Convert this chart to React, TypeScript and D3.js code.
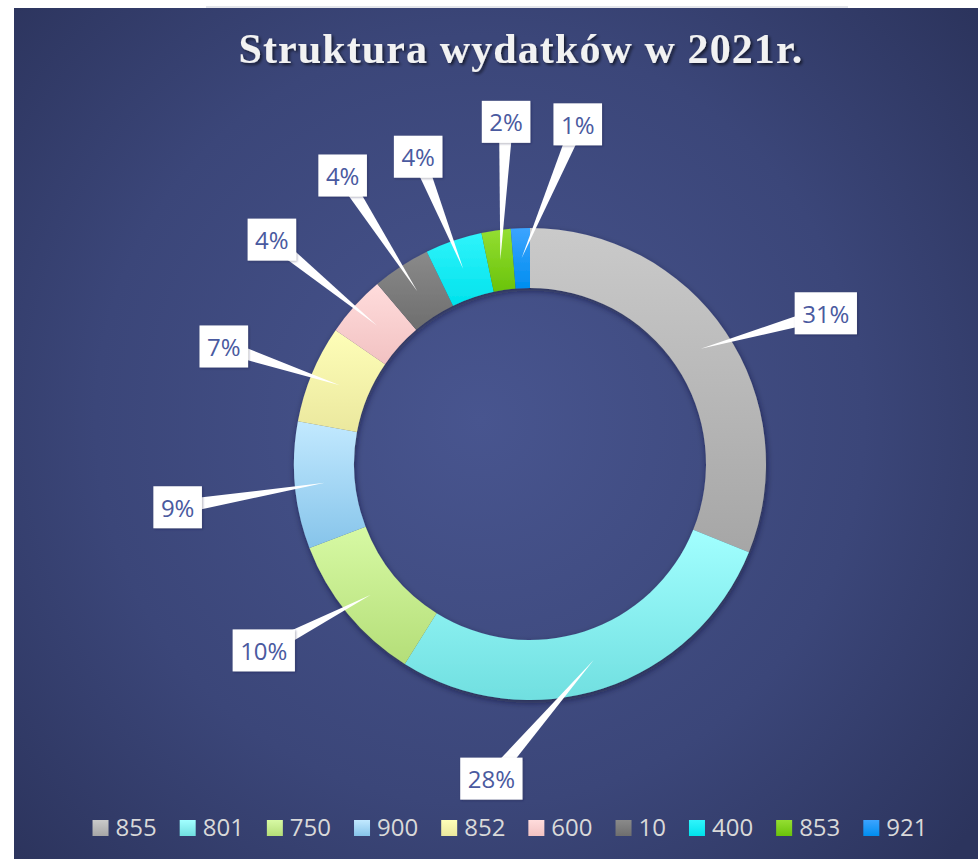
import React from "react";
import * as d3 from "d3";

const categories = ["855", "801", "750", "900", "852", "600", "10", "400", "853", "921"];
const shares = [31.1, 27.8, 10.3, 8.7, 6.7, 4.2, 4.0, 3.9, 2.0, 1.3];
const percentLabels = ["31%", "28%", "10%", "9%", "7%", "4%", "4%", "4%", "2%", "1%"];
const colorTop = ["#cacaca", "#a2ffff", "#d7f9a4", "#c2e9ff", "#fefeb8", "#ffdcdc", "#8a8a8a", "#30f4fb", "#94de32", "#3ca4ff"];
const colorBottom = ["#a6a6a6", "#70dfe0", "#b4de78", "#86c4ea", "#ebe89e", "#f2c2c2", "#6e6e6e", "#00e2ec", "#6ac30a", "#008ef0"];

// callout placement: degrees clockwise from 12 o'clock, distance from ring centre
const calloutAngle = [63, 187, 235, 263, 291, 311, 327, 340, 356, 8];
const calloutDist = [332, 317, 325, 355, 328, 342, 344, 327, 343, 343];

const W = 978, H = 859;
const CX = 530, CY = 464, R_OUT = 236, R_IN = 176;
const LABEL_FONT = "'Open Sans', sans-serif";

let ctx: CanvasRenderingContext2D | null = null;
function textWidth(s: string, font: string) {
  if (!ctx) ctx = document.createElement("canvas").getContext("2d");
  if (!ctx) return s.length * 13.7;
  ctx.font = font;
  return ctx.measureText(s).width;
}

export default function App() {
  const pie = d3.pie<number>().sort(null).value(d => d);
  const arcs = pie(shares);
  const arc = d3.arc<d3.PieArcDatum<number>>().innerRadius(R_IN).outerRadius(R_OUT);

  // legend layout
  const legFont = `24px ${LABEL_FONT}`;
  const key = 16, keyGap = 7, itemGap = 23;
  const widths = categories.map(c => key + keyGap + textWidth(c, legFont));
  const total = d3.sum(widths) + itemGap * (categories.length - 1);
  let lx = 510 - total / 2;
  const legendX = widths.map(w => { const x = lx; lx += w + itemGap; return x; });

  return (
    <svg width={W} height={H} viewBox={`0 0 ${W} ${H}`} style={{ position: "absolute", left: 0, top: 0, display: "block" }}>
      <defs>
        <radialGradient id="bg" gradientUnits="userSpaceOnUse" cx="480" cy="420" r="640">
          <stop offset="0" stopColor="#48558f" />
          <stop offset="0.6" stopColor="#3b4679" />
          <stop offset="1" stopColor="#2c345d" />
        </radialGradient>
        {categories.map((c, i) => (
          <linearGradient key={c} id={`g${i}`} x1="0" y1="0" x2="0" y2="1">
            <stop offset="0" stopColor={colorTop[i]} />
            <stop offset="1" stopColor={colorBottom[i]} />
          </linearGradient>
        ))}
        <filter id="ringShadow" x="-20%" y="-20%" width="140%" height="140%">
          <feDropShadow dx="1" dy="3" stdDeviation="3" floodColor="#101530" floodOpacity="0.55" />
        </filter>
        <filter id="titleShadow" x="-10%" y="-30%" width="120%" height="160%">
          <feDropShadow dx="2" dy="2" stdDeviation="1.5" floodColor="#000000" floodOpacity="0.6" />
        </filter>
        <filter id="boxShadow" x="-20%" y="-20%" width="140%" height="140%">
          <feDropShadow dx="1" dy="1" stdDeviation="0.8" floodColor="#1a2040" floodOpacity="0.35" />
        </filter>
      </defs>

      <rect x={14} y={8} width={W - 14} height={H - 8} fill="url(#bg)" />
      <line x1={206} x2={848} y1={7} y2={7} stroke="#c9ccd6" strokeWidth={1} />

      <text x={521} y={63} textAnchor="middle" fontFamily="'Liberation Serif', 'DejaVu Serif', serif" fontWeight="bold"
        fontSize={42} letterSpacing={1.1} fill="#f2f2f2" filter="url(#titleShadow)">
        Struktura wydatków w 2021r.
      </text>

      <g transform={`translate(${CX},${CY})`}>
        <g filter="url(#ringShadow)">
          {arcs.map((a, i) => (
            <path key={categories[i]} d={arc(a) || ""} fill={`url(#g${i})`} />
          ))}
        </g>

        {arcs.map((a, i) => {
          const [tx, ty] = arc.centroid(a);
          const [bx, by] = d3.pointRadial((calloutAngle[i] * Math.PI) / 180, calloutDist[i]);
          const dx = bx - tx, dy = by - ty, len = Math.hypot(dx, dy) || 1;
          const px = (-dy / len) * 7, py = (dx / len) * 7;
          const tw = textWidth(percentLabels[i], `24px ${LABEL_FONT}`);
          const bw = tw + 15, bh = 42;
          return (
            <g key={categories[i]}>
              <path d={`M${tx},${ty}L${bx + px},${by + py}L${bx - px},${by - py}Z`} fill="#ffffff" />
              <rect x={bx - bw / 2} y={by - bh / 2} width={bw} height={bh} fill="#ffffff" filter="url(#boxShadow)" />
              <text x={bx} y={by + 9.5} textAnchor="middle" fontFamily={LABEL_FONT} fontSize={24} fill="#4a5a9f">
                {percentLabels[i]}
              </text>
            </g>
          );
        })}
      </g>

      <g>
        {categories.map((c, i) => (
          <g key={c} transform={`translate(${legendX[i]},0)`}>
            <rect x={0} y={820} width={key} height={key} fill={`url(#g${i})`} />
            <text x={key + keyGap} y={836} fontFamily={LABEL_FONT} fontSize={24} fill="#d9d9d9">{c}</text>
          </g>
        ))}
      </g>
    </svg>
  );
}
